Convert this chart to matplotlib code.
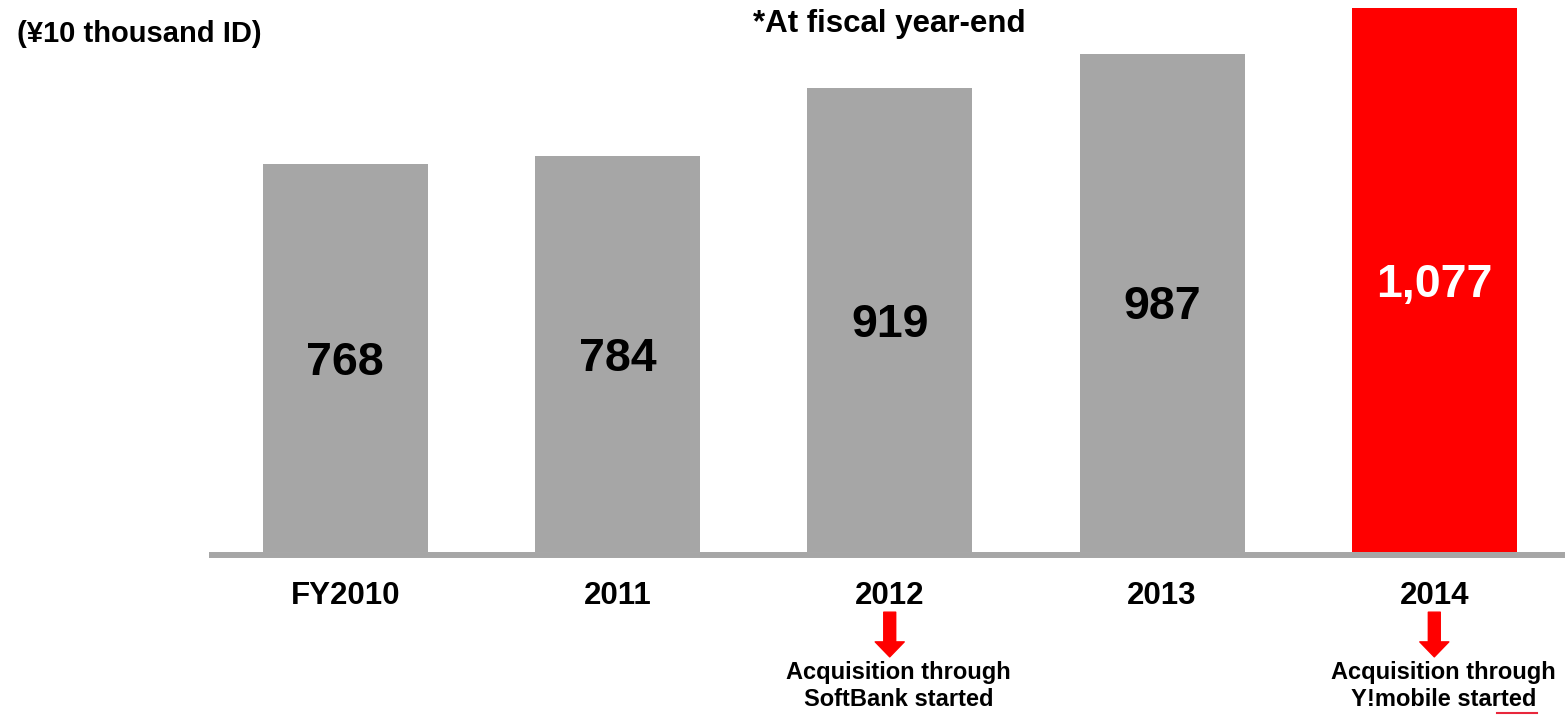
import matplotlib.pyplot as plt
from matplotlib.lines import Line2D

# Yahoo! JAPAN IDs at fiscal year-end, in units of 10 thousand
years = ["FY2010", "2011", "2012", "2013", "2014"]
ids = [768, 784, 919, 987, 1077]
value_labels = ["768", "784", "919", "987", "1,077"]
highlight = "2014"
notes = {
    "2012": "Acquisition through\nSoftBank started",
    "2014": "Acquisition through\nY!mobile started",
}

GRAY = "#a6a6a6"
RED = "#ff0000"

plt.rcParams["font.family"] = ["Liberation Sans", "DejaVu Sans"]
plt.rcParams["font.weight"] = "bold"

W, H = 1565, 715
fig = plt.figure(figsize=(W / 100, H / 100), dpi=100)
ax = fig.add_axes([209 / W, 163 / H, 1356 / W, 552 / H])

xs = list(range(len(years)))
colors = [RED if y == highlight else GRAY for y in years]
ax.bar(xs, ids, width=0.606, color=colors, zorder=2)
ax.set_xlim(-0.5, 4.48)
ax.set_ylim(0, 1093)

# value in the middle of each bar
for x, v, lab, y in zip(xs, ids, value_labels, years):
    ax.annotate(lab, (x, v / 2), xytext=(0, -12), textcoords="offset points",
                ha="center", va="baseline", fontsize=33.5, fontweight="bold",
                color="white" if y == highlight else "black")

for side in ["top", "left", "right"]:
    ax.spines[side].set_visible(False)
ax.spines["bottom"].set_color(GRAY)
ax.spines["bottom"].set_linewidth(4.3)
ax.spines["bottom"].set_capstyle("butt")
ax.spines["bottom"].set_position(("outward", 2.2))
ax.set_yticks([])
ax.set_xticks(xs, years)
ax.tick_params(axis="x", length=0, pad=19, labelsize=22.5)

# arrows and notes under the years where acquisition began
for y, txt in notes.items():
    x = years.index(y)
    ax.annotate("", xy=(x, -0.190), xytext=(x, -0.109),
                xycoords=("data", "axes fraction"),
                arrowprops=dict(arrowstyle="simple,head_width=20.9,head_length=10.8,tail_width=8.6",
                                mutation_scale=1, color=RED, shrinkA=0, shrinkB=0),
                annotation_clip=False)
    ax.text(x + 0.033, -0.243, txt, transform=ax.get_xaxis_transform(),
            ha="center", va="center", multialignment="center",
            fontsize=17, fontweight="bold", linespacing=1.2)

fig.text(889.5 / W, (H - 32) / H, "*At fiscal year-end", ha="center",
         va="baseline", fontsize=22.5, fontweight="bold")
fig.text(17 / W, (H - 42) / H, "(\u00a510 thousand ID)", ha="left",
         va="baseline", fontsize=21, fontweight="bold")

fig.add_artist(Line2D([1497 / W, 1537 / W], [(H - 713) / H] * 2,
                      color="#e8273b", lw=1.5))

fig.savefig("out.png", dpi=100)
